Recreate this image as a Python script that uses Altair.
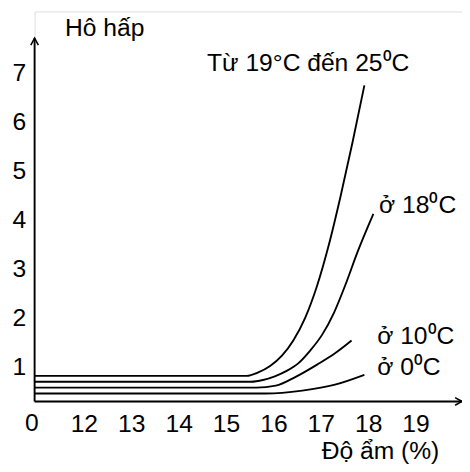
import altair as alt
import pandas as pd

FONT = "Liberation Sans, Arial, Helvetica, sans-serif"
FS = 25

# axis ticks
x_ticks = [12, 13, 14, 15, 16, 17, 18, 19]
y_ticks = [1, 2, 3, 4, 5, 6, 7]

# scale extents (broken axis: origin labelled "0")
x_origin = 10.96
x_end = 19.98
y_origin = 0.298
y_arrow = 7.70
y_top = 8.245

# series: respiration vs moisture
s25_x = [10.96, 15.43, 15.68, 15.93, 16.18, 16.42, 16.67, 16.92, 17.17, 17.42, 17.67, 17.92]
s25_y = [0.82, 0.82, 0.89, 1.02, 1.23, 1.54, 2.00, 2.65, 3.49, 4.49, 5.58, 6.74]
s18_x = [10.96, 15.53, 15.78, 16.03, 16.28, 16.53, 16.78, 17.03, 17.28, 17.53, 17.77, 18.11]
s18_y = [0.70, 0.70, 0.735, 0.81, 0.92, 1.08, 1.34, 1.66, 2.11, 2.70, 3.33, 4.12]
s10_x = [10.96, 15.64, 16.05, 16.47, 16.94, 17.30, 17.65]
s10_y = [0.58, 0.58, 0.62, 0.80, 1.06, 1.28, 1.54]
s0_x = [10.96, 15.84, 16.61, 17.30, 17.92]
s0_y = [0.46, 0.46, 0.52, 0.64, 0.84]

# annotations
center_text = ["Hô hấp", "Độ ẩm (%)", "0"]
center_x = [12.44, 18.26, 10.90]
center_y = [7.90, -0.706, -0.144]
left_text = ["Từ 19°C đến 25⁰C", "ở 18⁰C", "ở 10⁰C", "ở 0⁰C"]
left_x = [14.60, 18.23, 18.19, 18.19]
left_y = [7.20, 4.29, 1.62, 1.00]

rows = []
for name, xs_, ys_ in [("25", s25_x, s25_y), ("18", s18_x, s18_y),
                       ("10", s10_x, s10_y), ("0", s0_x, s0_y)]:
    for i, (a, b) in enumerate(zip(xs_, ys_)):
        rows.append({"series": name, "x": a, "y": b, "o": i})
lines_df = pd.DataFrame(rows)

xs = alt.Scale(domain=[x_origin, x_end], nice=False, zero=False)
ys = alt.Scale(domain=[y_origin, y_top], nice=False, zero=False)

x_axis = alt.Axis(values=x_ticks, domain=False, ticks=False, tickSize=0, grid=False,
                  title=None, labelFont=FONT, labelFontSize=FS, labelColor="black",
                  labelPadding=11, labelFlush=False)
y_axis = alt.Axis(values=y_ticks, domain=False, ticks=False, tickSize=0, grid=False,
                  title=None, labelFont=FONT, labelFontSize=FS, labelColor="black",
                  labelPadding=9, labelFlush=False)

lines = alt.Chart(lines_df).mark_line(
    interpolate="monotone", color="black", strokeWidth=1.9
).encode(
    x=alt.X("x:Q", scale=xs, axis=x_axis),
    y=alt.Y("y:Q", scale=ys, axis=y_axis),
    detail="series:N",
    order="o:Q",
)

xaxis_df = pd.DataFrame({"x": [x_origin], "x2": [x_end], "y": [y_origin]})
yaxis_df = pd.DataFrame({"x": [x_origin], "y": [y_origin], "y2": [y_arrow]})

x_rule = alt.Chart(xaxis_df).mark_rule(color="black", strokeWidth=1.9).encode(
    x=alt.X("x:Q", scale=xs), x2="x2:Q", y=alt.Y("y:Q", scale=ys))
y_rule = alt.Chart(yaxis_df).mark_rule(color="black", strokeWidth=1.9).encode(
    x=alt.X("x:Q", scale=xs), y=alt.Y("y:Q", scale=ys), y2="y2:Q")

arrow_r = alt.Chart(pd.DataFrame({"x": [x_end], "y": [y_origin]})).mark_point(
    shape="M-1,-0.55L0,0L-1,0.55", filled=False, size=196, color="black",
    strokeWidth=1.6, opacity=1
).encode(x=alt.X("x:Q", scale=xs), y=alt.Y("y:Q", scale=ys))
arrow_u = alt.Chart(pd.DataFrame({"x": [x_origin], "y": [y_arrow]})).mark_point(
    shape="M-0.55,1L0,0L0.55,1", filled=False, size=196, color="black",
    strokeWidth=1.6, opacity=1
).encode(x=alt.X("x:Q", scale=xs), y=alt.Y("y:Q", scale=ys))

ctext = alt.Chart(pd.DataFrame({"t": center_text, "x": center_x, "y": center_y})).mark_text(
    font=FONT, fontSize=FS, color="black", align="center", baseline="middle"
).encode(x=alt.X("x:Q", scale=xs), y=alt.Y("y:Q", scale=ys), text="t:N")
ltext = alt.Chart(pd.DataFrame({"t": left_text, "x": left_x, "y": left_y})).mark_text(
    font=FONT, fontSize=FS, color="black", align="left", baseline="middle"
).encode(x=alt.X("x:Q", scale=xs), y=alt.Y("y:Q", scale=ys), text="t:N")

chart = alt.layer(lines, x_rule, y_rule, arrow_r, arrow_u, ctext, ltext).properties(
    width=434, height=396,
    autosize=alt.AutoSizeParams(type="none"),
    padding={"left": 27, "top": 0, "right": 0, "bottom": 62},
).configure_view(stroke=None).configure(background="white")

chart.save("out.html", embed_options={"renderer": "svg", "actions": False})
